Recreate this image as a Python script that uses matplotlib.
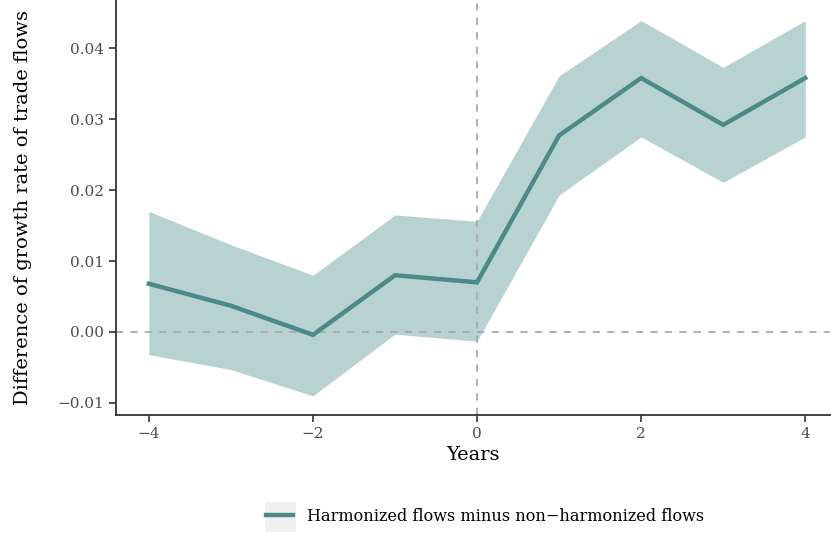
import matplotlib
matplotlib.use("Agg")
import matplotlib.pyplot as plt
from matplotlib.lines import Line2D
from matplotlib.patches import Rectangle

years = [-4, -3, -2, -1, 0, 1, 2, 3, 4]
estimate = [0.0068, 0.0037, -0.0004, 0.0080, 0.0070, 0.0277, 0.0358, 0.0292, 0.0358]
upper = [0.0170, 0.0123, 0.0080, 0.0165, 0.0156, 0.0361, 0.0439, 0.0373, 0.0439]
lower = [-0.0032, -0.0053, -0.0090, -0.0003, -0.0013, 0.0193, 0.0275, 0.0211, 0.0275]
x_ticks = [-4, -2, 0, 2, 4]
y_ticks = [-0.01, 0.00, 0.01, 0.02, 0.03, 0.04]

line_col = "#4c8a87"
band_col = "#b8d2d2"

plt.rcParams['font.family'] = ['DejaVu Serif']

fig = plt.figure(figsize=(8.31, 5.33), dpi=100)
ax = fig.add_axes([0.1396, 0.2214, 0.859, 0.7786])

ax.fill_between(years, lower, upper, color=band_col, lw=0)
ax.axhline(0, color="#aaaaaa", ls=(0, (4, 4)), lw=1.3)
ax.axvline(0, color="#aaaaaa", ls=(0, (4, 4)), lw=1.3)
ax.plot(years, estimate, color=line_col, lw=3.2, solid_joinstyle="miter")

ax.set_xlim(-4.40, 4.30)
ax.set_ylim(-0.0117, 0.0468)
ax.set_xticks(x_ticks)
ax.set_xticklabels(["\u22124", "\u22122", "0", "2", "4"])
ax.set_yticks(y_ticks)
ax.set_yticklabels(["\u22120.01", "0.00", "0.01", "0.02", "0.03", "0.04"])
ax.tick_params(labelsize=11, colors="#333333", labelcolor="#4d4d4d", length=5, width=1.2)

for s in ["top", "right"]:
    ax.spines[s].set_visible(False)
for s in ["left", "bottom"]:
    ax.spines[s].set_linewidth(1.3)
    ax.spines[s].set_color("#333333")

ax.set_xlabel("Years", fontsize=14, labelpad=4)
ax.set_ylabel("Difference of growth rate of trade flows", fontsize=14, labelpad=18)

# grey key box like ggplot's legend key
fig.patches.append(Rectangle((0.319, 0.002), 0.037, 0.056, transform=fig.transFigure,
                             facecolor="#f0f0f0", edgecolor="none", zorder=0))
handle = Line2D([], [], color=line_col, lw=3.2)
leg = fig.legend([handle], ["Harmonized flows minus non\u2212harmonized flows"],
                 loc="center", bbox_to_anchor=(0.584, 0.031), frameon=False,
                 fontsize=11.6, handlelength=1.65, handletextpad=0.9)

fig.savefig("out.png", dpi=100)
